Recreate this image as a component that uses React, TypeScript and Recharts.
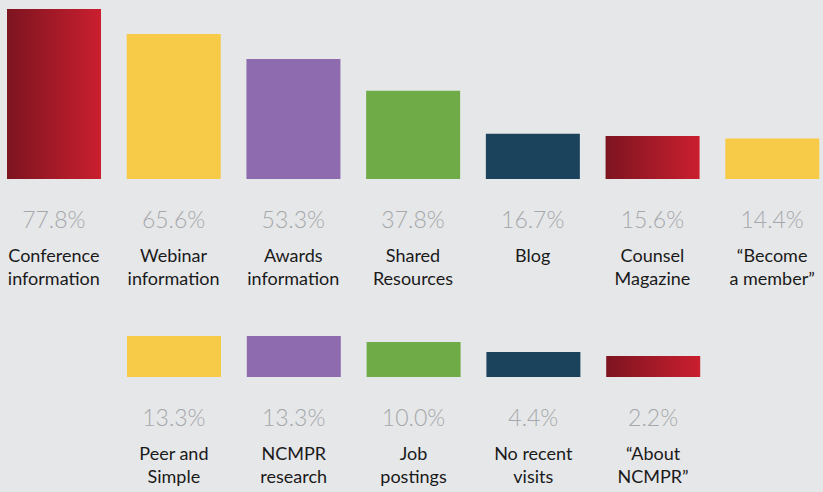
import React from "react";
import { BarChart, Bar, XAxis, YAxis, Cell } from "recharts";

// top row (7 items)
const topLabels = [
  "Conference\ninformation",
  "Webinar\ninformation",
  "Awards\ninformation",
  "Shared\nResources",
  "Blog",
  "Counsel\nMagazine",
  "“Become\na member”",
];
const topValues = [77.8, 65.6, 53.3, 37.8, 16.7, 15.6, 14.4];
const topColors = ["url(#redGradTop)", "#f7ca47", "#8e6baf", "#6fab47", "#1c435c", "url(#redGradTop)", "#f7ca47"];

// bottom row (5 items)
const bottomLabels = ["Peer and\nSimple", "NCMPR\nresearch", "Job\npostings", "No recent\nvisits", "“About\nNCMPR”"];
const bottomValues = [13.3, 13.3, 10.0, 4.4, 2.2];
const bottomColors = ["#f7ca47", "#8e6baf", "#6fab47", "#1c435c", "url(#redGradBottom)"];

// bars in the original don't start at zero, so each row gets its own floor
const TOP_FLOOR = -5.4;
const BOTTOM_FLOOR = -9.4;

const SLOT = 119.75;
const BG = "#e6e7e9";
const FONT = "Lato, 'Noto Sans', sans-serif";

const buildRows = (labels: string[], values: number[], floor: number) =>
  labels.map((name, i) => ({ name, value: values[i], range: [floor, values[i]] }));

const topData = buildRows(topLabels, topValues, TOP_FLOOR);
const bottomData = buildRows(bottomLabels, bottomValues, BOTTOM_FLOOR);

const makeTick = (rows: any[]) => (props: any) => {
  const { x, y, index } = props;
  const row = rows[index];
  if (!row) return null;
  const lines = row.name.split("\n");
  return (
    <g>
      <text
        x={x}
        y={y + 49}
        textAnchor="middle"
        fill="#a5a7aa"
        fontSize={23}
        fontWeight={300}
        fontFamily={FONT}
      >
        {row.value.toFixed(1) + "%"}
      </text>
      {lines.map((line: string, i: number) => (
        <text
          key={i}
          x={x}
          y={y + 83 + i * 23}
          textAnchor="middle"
          fill="#1a1a1a"
          fontSize={18}
          fontFamily={FONT}
        >
          {line}
        </text>
      ))}
    </g>
  );
};

const RedGradient = ({ id }: { id: string }) => (
  <defs>
    <linearGradient id={id} x1="0" y1="0" x2="1" y2="0">
      <stop offset="0%" stopColor="#7d1420" />
      <stop offset="100%" stopColor="#ca1f2f" />
    </linearGradient>
  </defs>
);

const Row = ({
  data,
  colors,
  floor,
  gradId,
  width,
  plotHeight,
  axisHeight,
}: {
  data: any[];
  colors: string[];
  floor: number;
  gradId: string;
  width: number;
  plotHeight: number;
  axisHeight: number;
}) => {
  const max = Math.max(...data.map((d) => d.value));
  return (
    <BarChart
      width={width}
      height={9 + plotHeight + axisHeight}
      data={data}
      margin={{ top: 9, right: 0, bottom: 0, left: 0 }}
      barCategoryGap={0}
    >
      <RedGradient id={gradId} />
      <XAxis
        dataKey="name"
        axisLine={false}
        tickLine={false}
        tickSize={0}
        tickMargin={0}
        height={axisHeight}
        interval={0}
        tick={makeTick(data)}
      />
      <YAxis hide type="number" domain={[floor, max]} allowDataOverflow />
      <Bar dataKey="range" barSize={94} isAnimationActive={false}>
        {data.map((_, i) => (
          <Cell key={`cell-${i}`} fill={colors[i]} />
        ))}
      </Bar>
    </BarChart>
  );
};

export default function App() {
  return (
    <div
      style={{
        position: "absolute",
        top: 0,
        left: 0,
        width: 823,
        height: 492,
        background: BG,
        overflow: "hidden",
      }}
    >
      <div style={{ position: "absolute", left: -6, top: 0 }}>
        <Row
          data={topData}
          colors={topColors}
          floor={TOP_FLOOR}
          gradId="redGradTop"
          width={Math.round(SLOT * 7)}
          plotHeight={170}
          axisHeight={121}
        />
      </div>
      <div style={{ position: "absolute", left: Math.round(SLOT - 6), top: 327 }}>
        <Row
          data={bottomData}
          colors={bottomColors}
          floor={BOTTOM_FLOOR}
          gradId="redGradBottom"
          width={Math.round(SLOT * 5)}
          plotHeight={41}
          axisHeight={124}
        />
      </div>
    </div>
  );
}
